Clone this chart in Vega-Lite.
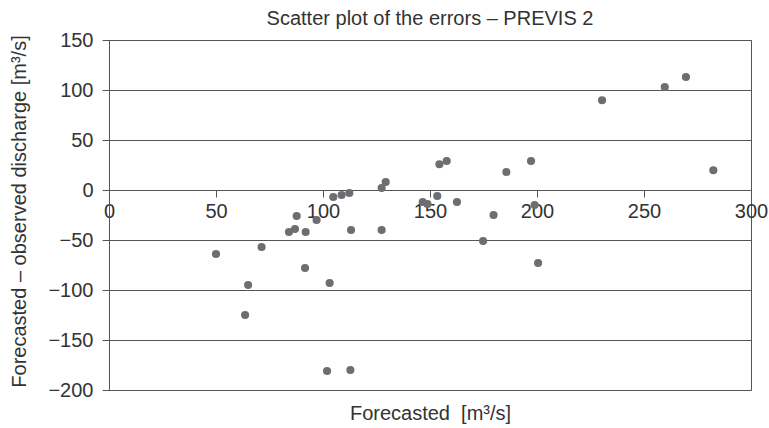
{
  "$schema": "https://vega.github.io/schema/vega-lite/v6.json",
  "width": 642,
  "height": 350,
  "autosize": {"type": "none"},
  "padding": {"left": 109, "top": 40, "right": 18, "bottom": 38},
  "background": "white",
  "title": {
    "text": "Scatter plot of the errors – PREVIS 2",
    "font": "Liberation Sans",
    "fontSize": 20,
    "fontWeight": "normal",
    "color": "#333333",
    "anchor": "middle",
    "frame": "group",
    "baseline": "alphabetic",
    "offset": -14.5
  },
  "data": {
    "values": [
      {"forecast": 50, "error": -64},
      {"forecast": 71.3, "error": -57},
      {"forecast": 65, "error": -95},
      {"forecast": 63.6, "error": -125},
      {"forecast": 87.7, "error": -26},
      {"forecast": 86.9, "error": -39},
      {"forecast": 84.1, "error": -42},
      {"forecast": 91.9, "error": -42},
      {"forecast": 97, "error": -30},
      {"forecast": 91.6, "error": -78},
      {"forecast": 103.1, "error": -93},
      {"forecast": 104.8, "error": -7},
      {"forecast": 108.7, "error": -5},
      {"forecast": 112.3, "error": -3},
      {"forecast": 113.1, "error": -40},
      {"forecast": 127.4, "error": -40},
      {"forecast": 127.4, "error": 2},
      {"forecast": 129.3, "error": 8},
      {"forecast": 101.9, "error": -181},
      {"forecast": 112.8, "error": -180},
      {"forecast": 146.6, "error": -12},
      {"forecast": 148.8, "error": -14},
      {"forecast": 154.4, "error": 25.7},
      {"forecast": 157.8, "error": 29},
      {"forecast": 153.4, "error": -6},
      {"forecast": 162.6, "error": -12},
      {"forecast": 179.7, "error": -25},
      {"forecast": 174.8, "error": -51},
      {"forecast": 185.7, "error": 18},
      {"forecast": 197.2, "error": 29},
      {"forecast": 198.9, "error": -15},
      {"forecast": 200.5, "error": -73},
      {"forecast": 230.4, "error": 89.7},
      {"forecast": 259.7, "error": 103},
      {"forecast": 269.6, "error": 113},
      {"forecast": 282.4, "error": 19.7}
    ]
  },
  "mark": {"type": "circle", "size": 66, "color": "#6d6e72", "opacity": 1},
  "encoding": {
    "x": {
      "field": "forecast",
      "type": "quantitative",
      "scale": {"domain": [0, 300], "nice": false, "zero": false},
      "axis": {
        "title": "Forecasted \u00a0[m³/s]",
        "values": [0, 50, 100, 150, 200, 250, 300],
        "offset": -200,
        "grid": false,
        "domain": true,
        "domainColor": "#555555",
        "tickColor": "#555555",
        "tickSize": 7,
        "labelPadding": 4,
        "labelFont": "Liberation Sans",
        "labelFontSize": 20,
        "labelColor": "#333333",
        "labelFlush": false,
        "labelOverlap": false,
        "titleFont": "Liberation Sans",
        "titleFontSize": 20,
        "titleFontWeight": "normal",
        "titleColor": "#333333",
        "titleBaseline": "alphabetic",
        "titleY": 229,
        "titleX": 321
      }
    },
    "y": {
      "field": "error",
      "type": "quantitative",
      "scale": {"domain": [-200, 150], "nice": false, "zero": false},
      "axis": {
        "title": "Forecasted – observed discharge [m³/s]",
        "values": [-200, -150, -100, -50, 0, 50, 100, 150],
        "grid": true,
        "gridColor": "#555555",
        "gridWidth": 1,
        "domain": true,
        "domainColor": "#555555",
        "tickColor": "#555555",
        "tickSize": 7,
        "labelPadding": 9,
        "labelFont": "Liberation Sans",
        "labelFontSize": 20,
        "labelColor": "#333333",
        "labelFlush": false,
        "labelOverlap": false,
        "titleFont": "Liberation Sans",
        "titleFontSize": 20,
        "titleFontWeight": "normal",
        "titleColor": "#333333",
        "titleBaseline": "alphabetic",
        "titleAngle": 270,
        "titleX": -84,
        "titleY": 171
      }
    }
  },
  "config": {
    "view": {"stroke": "#555555", "strokeWidth": 1}
  }
}
